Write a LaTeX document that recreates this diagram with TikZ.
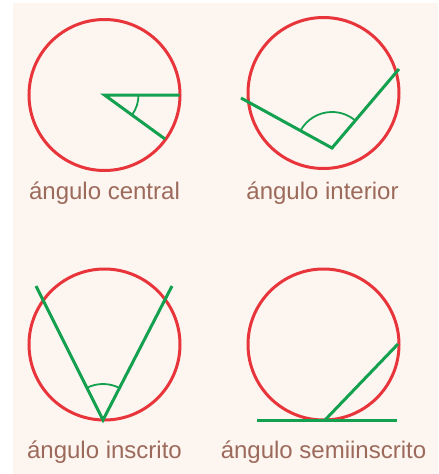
\documentclass[tikz,border=0pt]{standalone}
\usepackage{fontspec}
\setmainfont{Liberation Sans}
\usetikzlibrary{positioning}
\definecolor{fondo}{HTML}{FDF5F0}
\definecolor{circulo}{HTML}{E8353B}
\definecolor{recta}{HTML}{13A04F}
\definecolor{texto}{HTML}{9C6A5B}

\begin{document}
\begin{tikzpicture}[x=1pt, y=-1pt,
  circ/.style={draw=circulo, line width=3pt},
  lado/.style={draw=recta, line width=3pt},
  marca/.style={draw=recta, line width=1.8pt},
  rot/.style={anchor=base, text=texto, font=\fontsize{24}{28}\selectfont, inner sep=0pt}]
\useasboundingbox (0,0) rectangle (439,474);
\fill[fondo] (13,3) rectangle (438,474);
% angulo central
\coordinate (c1) at (104.5,95);
\coordinate (c1a) at (179.5,95);
\coordinate (c1b) at (165,139);
\draw[circ] (c1) circle[radius=75.5];
\draw[lado] (c1a) -- (c1) -- (c1b);
\draw[marca] ([shift={(0:34)}]c1) arc[start angle=0, end angle=36, radius=34];
\node[rot] (t1) at (104.5,199.5) {ángulo central};
% angulo interior
\coordinate (c2) at (323.5,93);
\coordinate (v2) at (332,148);
\coordinate (p2a) at (241,98);
\coordinate (p2b) at (399,69);
\draw[circ] (c2) circle[radius=75.5];
\draw[lado] (p2a) -- (v2) -- (p2b);
\draw[marca] ([shift={(-151:36)}]v2) arc[start angle=-151, end angle=-50, radius=36];
\node[rot] (t2) at (322.5,199.5) {ángulo interior};
% angulo inscrito
\coordinate (c3) at (104.5,344.5);
\coordinate (v3) at (103,420);
\coordinate (p3a) at (36,286);
\coordinate (p3b) at (172,286);
\draw[circ] (c3) circle[radius=75.5];
\draw[lado] (p3a) -- (v3) -- (p3b);
\draw[marca] ([shift={(-116.5:36)}]v3) arc[start angle=-116.5, end angle=-63, radius=36];
\node[rot] (t3) at (104.5,458.5) {ángulo inscrito};
% angulo semiinscrito
\coordinate (c4) at (323.5,344.5);
\coordinate (v4) at (325,420);
\coordinate (p4a) at (257,420);
\coordinate (p4b) at (397,420);
\coordinate (p4c) at (398,344);
\draw[circ] (c4) circle[radius=75.5];
\draw[lado] (p4a) -- (p4b);
\draw[lado] (v4) -- (p4c);
\node[rot] (t4) at (323.5,458.5) {ángulo semiinscrito};
\end{tikzpicture}
\end{document}
